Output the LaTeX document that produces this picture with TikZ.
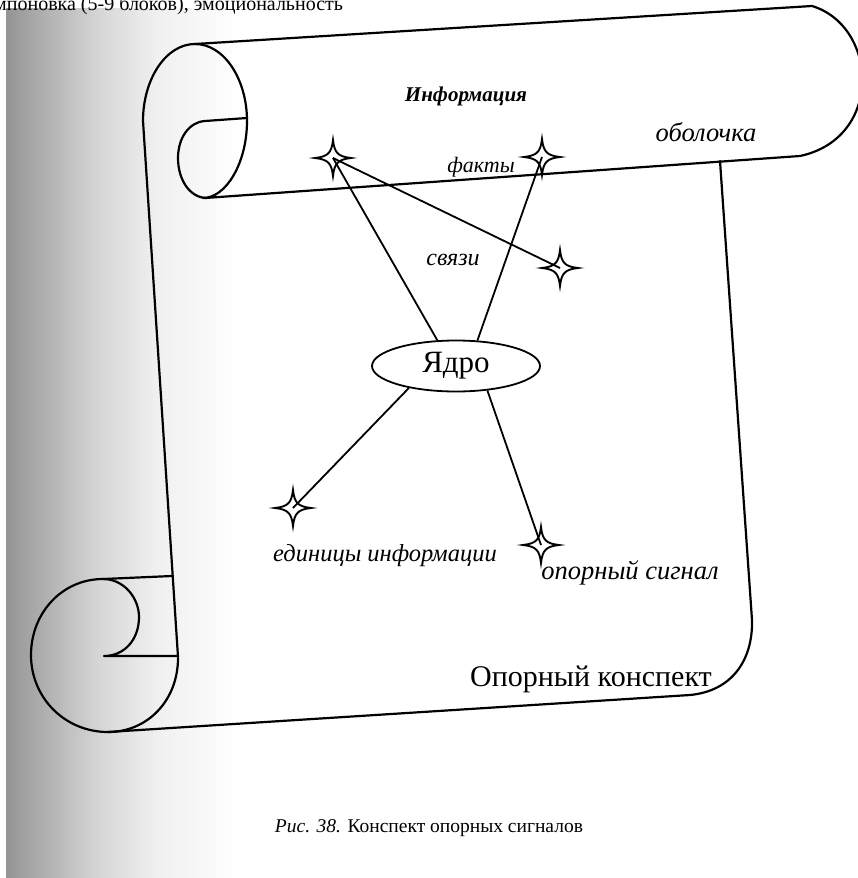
\documentclass[tikz,border=0pt]{standalone}
\usepackage{fontspec}
\setmainfont{Liberation Serif}
\usetikzlibrary{shapes.geometric}
% greyish fade along the bound edge of the page
\pgfdeclarehorizontalshading{pageedge}{100bp}{color(0bp)=(black!42); color(25bp)=(black!42); color(34bp)=(black!30); color(45bp)=(black!16); color(57bp)=(black!6); color(75bp)=(white); color(100bp)=(white)}

\begin{document}
\begin{tikzpicture}[x=1pt,y=-1pt,
  outline/.style={line width=2.2pt, line join=round, line cap=round},
  link/.style={line width=1.8pt},
  lbl/.style={font=\fontsize{24}{26}\selectfont\itshape, inner sep=0pt},
  pt/.style={circle, inner sep=0pt, minimum size=1pt},
  sparkle/.pic={\draw[line width=1.9pt, line join=miter]
     (18,0) .. controls (5,1.5) and (1.5,5) .. (0,18)
            .. controls (-1.5,5) and (-5,1.5) .. (-18,0)
            .. controls (-5,-1.5) and (-1.5,-5) .. (0,-18)
            .. controls (1.5,-5) and (5,-1.5) .. (18,0) -- cycle;}
]
\useasboundingbox (0,0) rectangle (858,878);
\fill[white] (0,0) rectangle (858,878);
\shade[shading=pageedge] (6,8) rectangle (240,878);

% running text of the page above the figure
\node[anchor=base west, inner sep=0pt, font=\fontsize{20}{22}\selectfont] (runtext) at (-6,10) {мпоновка (5-9 блоков), эмоциональность};

% upper roll of the scroll
\draw[outline] (195,44) -- (812,6) .. controls (878,26) and (884,138) .. (800,156) -- (205,198);
\draw[outline] (195,44) .. controls (224,44) and (247,79) .. (247,121)
               .. controls (247,163) and (226,198) .. (203,198);
\draw[outline] (195,44) .. controls (166,44) and (143,79) .. (143,121) -- (178,657);
\draw[outline] (247,118) -- (205,121) .. controls (189,122) and (178,138) .. (178,158)
               .. controls (178,180) and (190,198) .. (207,198);

% lower roll of the scroll
\draw[outline] (172,576) -- (103,579) .. controls (62,579) and (31,613) .. (31,655)
               .. controls (31,698) and (65,732) .. (108,732)
               .. controls (148,732) and (178,700) .. (178,658);
\draw[outline] (103,579) .. controls (124,579) and (139,598) .. (139,617)
               .. controls (139,640) and (124,656) .. (104,656) -- (178,656);
\draw[outline] (108,732) -- (690,695) .. controls (732,691) and (753,660) .. (752,620) -- (720,161);

% points and core
\node[pt] (s1) at (333,158) {};
\node[pt] (s2) at (542,157) {};
\node[pt] (s3) at (560,268) {};
\node[pt] (s4) at (293,508) {};
\node[pt] (s5) at (541,545) {};
\node[draw, ellipse, line width=1.8pt, minimum width=168pt, minimum height=51pt,
      inner sep=0pt, font=\fontsize{31}{33}\selectfont] (core) at (456,366) {Ядро};

\draw[link] (s1.center) -- (s3.center);
\draw[link] (s1.center) -- (core.126);
\draw[link] (s2.center) -- (core.50);
\draw[link] (core.205) -- (s4.center);
\draw[link] (core.322) -- (s5.center);

\foreach \s in {s1,s2,s3,s4,s5} \pic at (\s) {sparkle};

% labels
\node[font=\fontsize{21}{23}\selectfont\bfseries\itshape] (title) at (466,96) {Информация};
\node[lbl, font=\fontsize{26.5}{28}\selectfont\itshape] (shell) at (706,132) {оболочка};
\node[lbl, font=\fontsize{22}{24}\selectfont\itshape] (facts) at (481,167) {факты};
\node[lbl] (links) at (453,260) {связи};
\node[lbl, font=\fontsize{24.5}{26}\selectfont\itshape] (units) at (385,556) {единицы информации};
\node[lbl, font=\fontsize{26.5}{28}\selectfont\itshape] (signal) at (630,573) {опорный сигнал};
\node[font=\fontsize{30}{32}\selectfont] (name) at (591,679) {Опорный конспект};

\node[font=\fontsize{19.5}{21}\selectfont] (caption) at (429,828) {\textit{Рис. 38.} Конспект опорных сигналов};
\end{tikzpicture}
\end{document}
